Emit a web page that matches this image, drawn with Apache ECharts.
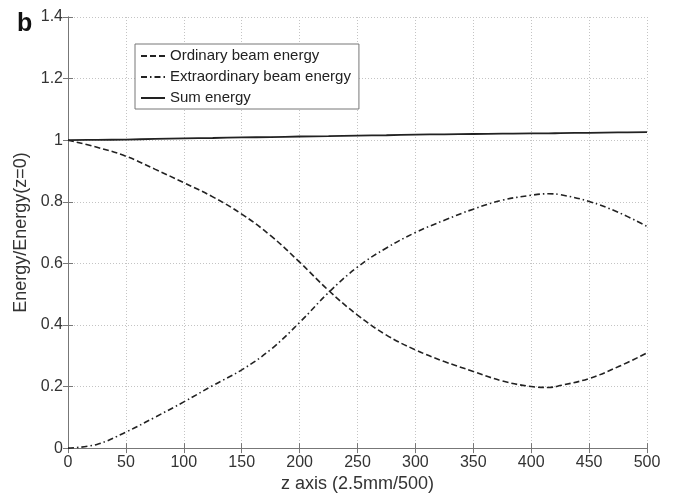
<!DOCTYPE html>
<html>
<head>
<meta charset="utf-8">
<script src="https://cdn.jsdelivr.net/npm/echarts@6/dist/echarts.min.js"></script>
<style>
  html, body { margin: 0; padding: 0; background: #fff; }
  #chart { width: 673px; height: 498px; }
</style>
</head>
<body>
<div id="chart"></div>
<script>
// z 轴采样位置
const zs = [0, 25, 50, 75, 100, 125, 150, 175, 200, 225, 250, 275, 300, 325, 350, 375, 400, 415, 425, 450, 475, 500]
// 三条能量曲线 (归一化)
const ordinary = [1.0, 0.977, 0.948, 0.906, 0.862, 0.816, 0.760, 0.690, 0.604, 0.512, 0.432, 0.367, 0.319, 0.281, 0.249, 0.218, 0.200, 0.197, 0.203, 0.226, 0.264, 0.309]
const extraordinary = [0.0, 0.012, 0.052, 0.100, 0.150, 0.203, 0.254, 0.320, 0.408, 0.505, 0.588, 0.650, 0.700, 0.740, 0.776, 0.805, 0.821, 0.826, 0.823, 0.801, 0.766, 0.720]
const sumEnergy = [1.0, 1.001, 1.002, 1.004, 1.006, 1.007, 1.009, 1.010, 1.012, 1.013, 1.015, 1.016, 1.018, 1.019, 1.020, 1.021, 1.022, 1.022, 1.023, 1.024, 1.025, 1.026]
const seriesNames = ['Ordinary beam energy', 'Extraordinary beam energy', 'Sum energy']

const font = 'Liberation Sans, Arial, Helvetica, sans-serif'
const axisColor = '#777'
const textColor = '#333'
const toPairs = vals => zs.map((z, i) => [z, vals[i]])

const chart = echarts.init(document.getElementById('chart'))

const boxAxis = {
    axisLine: { show: true, lineStyle: { color: axisColor, width: 1 } },
    axisTick: { show: true, inside: true, length: 5, lineStyle: { color: axisColor } },
    axisLabel: { show: false },
    splitLine: { show: false }
}

const lineSeries = (name, vals, width, type) => ({
    name,
    type: 'line',
    smooth: 0.4,
    symbol: 'none',
    data: toPairs(vals),
    lineStyle: { color: '#222', width, type },
    itemStyle: { color: '#222' }
})

chart.setOption({
    backgroundColor: '#ffffff',
    animation: false,
    title: {
        text: 'b',
        left: 12,
        top: 7,
        textStyle: { fontFamily: font, fontSize: 25, fontWeight: 'bold', color: '#111' }
    },
    grid: { left: 68, right: 26, top: 17, bottom: 49 },
    legend: {
        orient: 'vertical',
        left: 135,
        top: 44,
        padding: [4, 8, 3, 5],
        itemGap: 5,
        itemWidth: 24,
        itemHeight: 12,
        backgroundColor: '#fff',
        borderColor: '#777',
        borderWidth: 1,
        borderRadius: 0,
        data: seriesNames,
        itemStyle: { opacity: 0 },
        textStyle: { fontFamily: font, fontSize: 15, color: '#222', lineHeight: 16 }
    },
    xAxis: [{
        type: 'value',
        min: 0,
        max: 500,
        interval: 50,
        name: 'z axis (2.5mm/500)',
        nameLocation: 'middle',
        nameGap: 21,
        nameTextStyle: { fontFamily: font, fontSize: 18, color: textColor },
        axisLine: { lineStyle: { color: axisColor } },
        axisTick: { inside: true, length: 5, lineStyle: { color: axisColor } },
        axisLabel: { fontFamily: font, fontSize: 16, color: textColor, margin: 6 },
        splitLine: { show: true, lineStyle: { color: '#c4c4c4', type: [1, 2] } }
    }, Object.assign({ type: 'value', position: 'top', min: 0, max: 500, interval: 50 }, boxAxis)],
    yAxis: [{
        type: 'value',
        min: 0,
        max: 1.4,
        interval: 0.2,
        name: 'Energy/Energy(z=0)',
        nameLocation: 'middle',
        nameGap: 38,
        nameTextStyle: { fontFamily: font, fontSize: 18, color: textColor },
        axisLine: { show: true, lineStyle: { color: axisColor } },
        axisTick: { show: true, inside: true, length: 5, lineStyle: { color: axisColor } },
        axisLabel: { fontFamily: font, fontSize: 16, color: textColor, margin: 5 },
        splitLine: { show: true, lineStyle: { color: '#c4c4c4', type: [1, 2] } }
    }, Object.assign({ type: 'value', position: 'right', min: 0, max: 1.4, interval: 0.2 }, boxAxis)],
    series: [
        lineSeries(seriesNames[0], ordinary, 1.6, [6, 3]),
        lineSeries(seriesNames[1], extraordinary, 1.6, [6, 3, 1.5, 3]),
        lineSeries(seriesNames[2], sumEnergy, 1.8, 'solid')
    ]
})
</script>
</body>
</html>
